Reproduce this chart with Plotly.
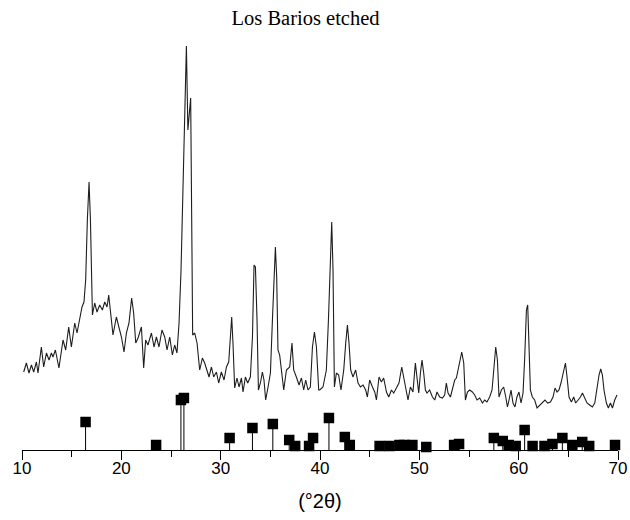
import plotly.graph_objects as go

# Measured XRD pattern (2-theta in degrees, intensity in arbitrary units)
two_theta = [
    10.17, 10.44, 10.70, 10.95, 11.18, 11.45, 11.61, 11.95, 12.18, 12.46, 12.72, 12.96, 13.12, 13.36,
    13.72, 14.13, 14.40, 14.70, 14.97, 15.31, 15.54, 15.81, 16.04, 16.24, 16.41, 16.58, 16.75, 16.89,
    17.02, 17.09, 17.32, 17.55, 17.82, 18.09, 18.33, 18.56, 18.73, 18.93, 19.16, 19.50, 19.77, 20.01,
    20.27, 20.51, 20.77, 21.04, 21.24, 21.45, 21.68, 22.02, 22.25, 22.45, 22.68, 23.03, 23.29, 23.53,
    23.79, 24.09, 24.37, 24.60, 24.87, 25.14, 25.37, 25.60, 25.81, 26.01, 26.21, 26.55, 26.70, 26.98,
    27.11, 27.18, 27.39, 27.62, 27.89, 28.16, 28.39, 28.62, 28.83, 29.07, 29.30, 29.57, 29.80, 30.07,
    30.34, 30.58, 30.81, 30.98, 31.11, 31.24, 31.41, 31.64, 31.85, 32.09, 32.25, 32.49, 32.72, 32.99,
    33.20, 33.36, 33.50, 33.66, 33.80, 34.00, 34.20, 34.36, 34.53, 34.77, 35.01, 35.21, 35.37, 35.51,
    35.64, 35.77, 35.94, 36.11, 36.35, 36.62, 36.95, 37.18, 37.35, 37.62, 37.89, 38.13, 38.36, 38.56,
    38.79, 39.03, 39.24, 39.44, 39.64, 39.87, 39.97, 40.30, 40.64, 40.85, 41.05, 41.18, 41.31, 41.45,
    41.65, 41.88, 42.11, 42.39, 42.59, 42.76, 42.92, 43.09, 43.32, 43.59, 43.83, 44.07, 44.33, 44.60,
    44.77, 45.00, 45.28, 45.51, 45.68, 45.94, 46.18, 46.41, 46.69, 46.92, 47.19, 47.42, 47.69, 47.95,
    48.23, 48.43, 48.63, 48.86, 49.10, 49.36, 49.60, 49.77, 49.94, 50.11, 50.27, 50.44, 50.61, 50.77,
    51.04, 51.32, 51.55, 51.78, 52.05, 52.32, 52.55, 52.72, 52.89, 53.13, 53.33, 53.56, 53.73, 53.89,
    54.06, 54.27, 54.47, 54.64, 54.84, 55.07, 55.34, 55.57, 55.81, 56.08, 56.35, 56.58, 56.81, 57.08,
    57.32, 57.49, 57.69, 57.86, 58.02, 58.26, 58.49, 58.70, 58.87, 59.03, 59.23, 59.43, 59.63, 59.83,
    60.03, 60.24, 60.44, 60.61, 60.78, 60.91, 61.04, 61.18, 61.38, 61.61, 61.85, 62.12, 62.39, 62.65,
    62.92, 63.20, 63.46, 63.66, 63.86, 64.06, 64.26, 64.46, 64.71, 64.87, 65.07, 65.31, 65.54, 65.74,
    65.97, 66.22, 66.42, 66.65, 66.88, 67.15, 67.42, 67.66, 67.89, 68.09, 68.26, 68.43, 68.59, 68.83,
    69.03, 69.24, 69.44, 69.67, 69.90,
]
intensity = [
    78, 87, 77, 85, 78, 88, 77, 103, 83, 97, 90, 97, 93, 100,
    82, 110, 100, 123, 103, 127, 117, 130, 143, 148, 170, 230, 268, 230,
    153, 135, 147, 138, 145, 140, 148, 143, 155, 137, 115, 133, 123, 113,
    98, 117, 127, 152, 137, 107, 112, 123, 82, 110, 105, 117, 103, 113,
    103, 120, 113, 100, 113, 95, 105, 97, 127, 180, 263, 404, 320, 352,
    200, 115, 117, 107, 80, 92, 87, 80, 73, 83, 73, 78, 67, 78,
    70, 83, 88, 113, 133, 107, 62, 72, 63, 72, 58, 73, 67, 73,
    113, 185, 183, 130, 60, 67, 78, 70, 50, 63, 77, 130, 180, 203,
    173, 100, 95, 80, 60, 80, 83, 107, 80, 73, 65, 72, 60, 70,
    60, 63, 103, 118, 103, 60, 60, 63, 80, 130, 197, 228, 180, 63,
    77, 75, 60, 80, 107, 125, 107, 80, 73, 80, 67, 63, 65, 60,
    53, 70, 63, 58, 50, 73, 68, 72, 58, 53, 60, 57, 62, 67,
    83, 73, 60, 50, 63, 58, 87, 73, 57, 77, 90, 77, 60, 57,
    60, 53, 50, 58, 53, 52, 55, 67, 57, 53, 60, 70, 72, 80,
    90, 98, 87, 50, 58, 60, 58, 55, 50, 52, 47, 50, 48, 53,
    60, 80, 103, 90, 53, 60, 63, 53, 43, 50, 60, 47, 43, 53,
    58, 47, 57, 93, 140, 145, 113, 60, 53, 50, 42, 45, 47, 50,
    47, 48, 53, 62, 58, 60, 67, 77, 87, 73, 53, 48, 53, 47,
    50, 53, 57, 52, 47, 45, 43, 47, 63, 75, 81, 75, 60, 47,
    42, 47, 42, 50, 55,
]

# Reference stick pattern (peak positions and relative heights)
ref_positions = [16.4, 23.5, 26.0, 26.3, 30.9, 33.2, 35.25, 36.9, 37.5, 38.9, 39.3, 40.9, 42.5, 43.0,
                 46.0, 47.0, 48.0, 48.5, 49.3, 50.7, 53.5, 54.0, 57.5, 58.4, 59.0, 59.7, 60.6, 61.4,
                 62.6, 63.4, 64.4, 65.4, 66.4, 67.1, 69.7]
ref_heights = [28, 5, 50, 52, 12, 22, 26, 10, 4, 4, 12, 32, 13, 5,
               4, 4, 5, 5, 5, 3, 5, 6, 12, 9, 5, 4, 20, 4,
               4, 6, 12, 5, 8, 4, 5]

x_ticks = [10, 20, 30, 40, 50, 60, 70]

stick_x, stick_y = [], []
for p, h in zip(ref_positions, ref_heights):
    stick_x += [p, p, None]
    stick_y += [0, h, None]

fig = go.Figure()
fig.add_trace(go.Scatter(x=two_theta, y=intensity, mode="lines",
                         line=dict(color="#1e1e1e", width=1.1), showlegend=False, hoverinfo="skip"))
fig.add_trace(go.Scatter(x=stick_x, y=stick_y, mode="lines",
                         line=dict(color="#000000", width=1), showlegend=False, hoverinfo="skip"))
fig.add_trace(go.Scatter(x=ref_positions, y=ref_heights, mode="markers", cliponaxis=False,
                         marker=dict(symbol="square", size=10.5, color="#000000"),
                         showlegend=False, hoverinfo="skip"))

fig.update_layout(
    width=630, height=520,
    margin=dict(l=22, r=12, t=40, b=70),
    paper_bgcolor="white", plot_bgcolor="white",
    title=dict(text="Los Barios etched", x=0.485, xanchor="center", y=0.965, yanchor="middle",
               font=dict(family="Liberation Serif", size=20.5, color="#000000")),
    xaxis=dict(range=[10, 70], tickvals=x_ticks, ticktext=[str(v) for v in x_ticks],
               automargin=False,
               showline=True, linecolor="#000000", linewidth=1.3, ticks="outside", ticklen=9,
               tickwidth=1.3, tickcolor="#000000", showgrid=False, zeroline=False,
               ticklabelstandoff=-7,
               minor=dict(dtick=5, ticks="outside", ticklen=6, tickwidth=1.2, tickcolor="#000000",
                          showgrid=False),
               tickfont=dict(family="Liberation Sans", size=17, color="#000000"),
               title=dict(text="(°2θ)", standoff=17,
                          font=dict(family="Liberation Sans", size=20, color="#000000"))),
    yaxis=dict(range=[0, 410], visible=False, showgrid=False, zeroline=False, automargin=False),
)

fig.write_html("out.html", config={"displayModeBar": False},
               post_script="document.body.style.margin='0';")
